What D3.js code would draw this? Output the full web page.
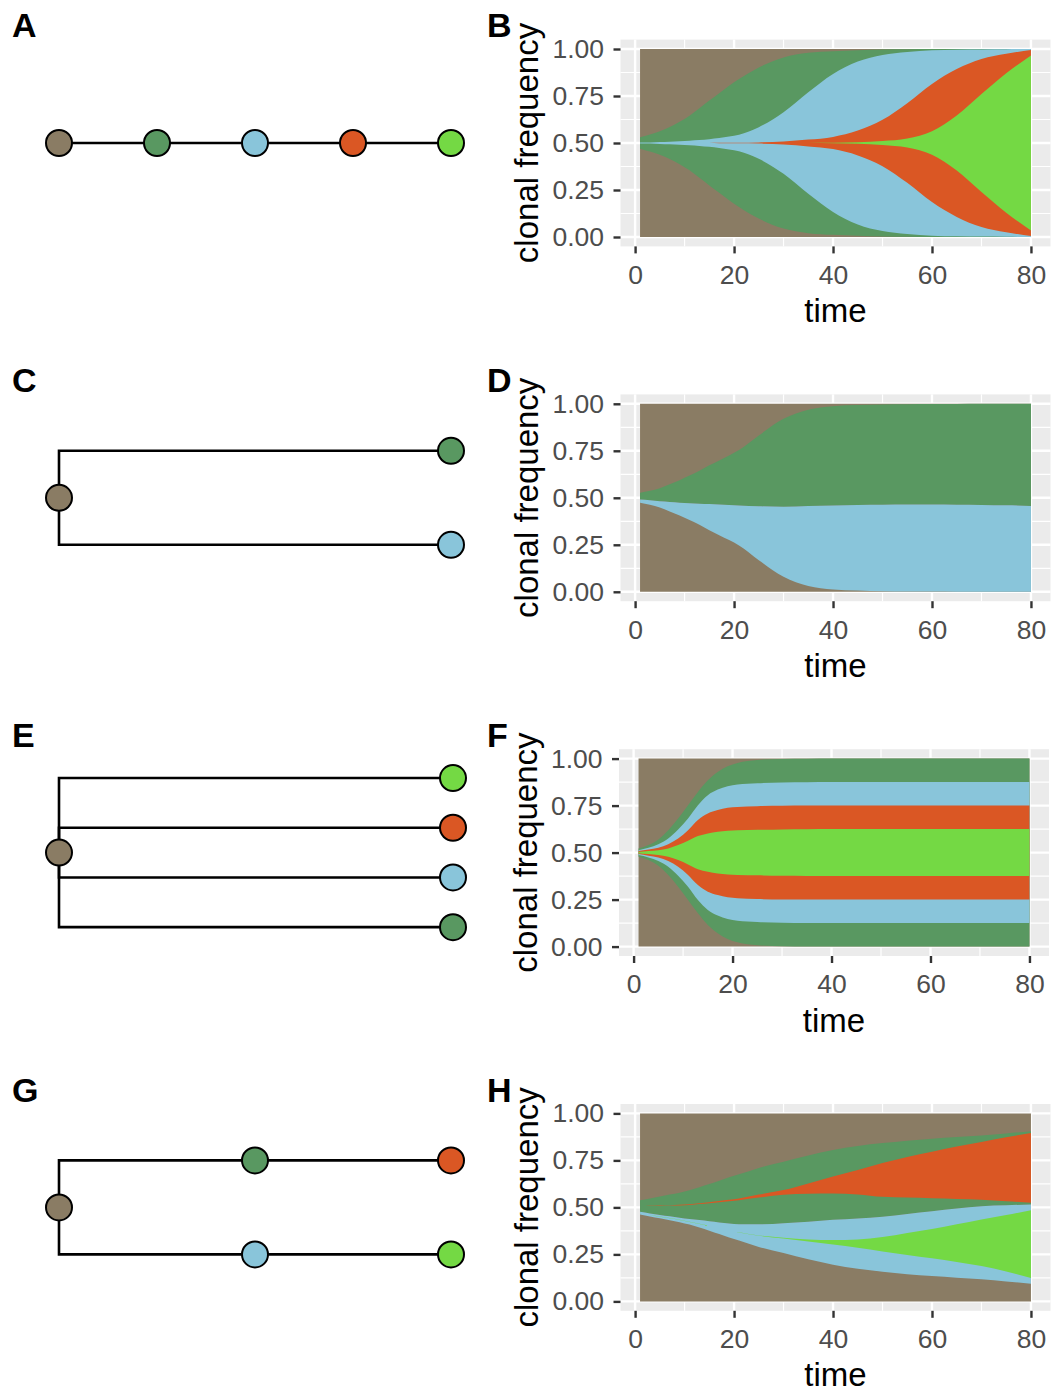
<!DOCTYPE html>
<html>
<head>
<meta charset="utf-8">
<script src="https://cdn.jsdelivr.net/npm/d3@7"></script>
<style>
  body { margin: 0; background: #ffffff; }
  text { font-family: "Liberation Sans", Arial, sans-serif; }
</style>
</head>
<body>
<svg id="fig" width="1053" height="1392"></svg>
<script>
// ---- clone colours ----
const colBrown  = "#8A7C64";
const colGreen  = "#599861";
const colBlue   = "#89C5DA";
const colOrange = "#DA5724";
const colLime   = "#74D944";

// ---- sampling times shared by every fish plot ----
const times = [1, 3, 5, 7, 9, 11, 13, 15, 17, 19, 21, 25, 30, 35, 40, 45, 50, 55, 60, 65, 70, 75, 80];
const rootFreq = times.map(() => 1);

// ---- clonal frequencies (each clone includes its descendants) ----
// B: linear chain brown > green > blue > orange > lime
const bGreen  = [0.06, 0.09, 0.124, 0.17, 0.225, 0.29, 0.37, 0.451, 0.53, 0.61, 0.68, 0.804, 0.91, 0.959, 0.977, 0.988, 0.995, 0.998, 1, 1, 1, 1, 1];
const bBlue   = [0.004, 0.006, 0.01, 0.014, 0.018, 0.024, 0.031, 0.041, 0.052, 0.068, 0.088, 0.168, 0.327, 0.539, 0.733, 0.866, 0.936, 0.968, 0.986, 0.993, 0.996, 0.998, 1];
const bOrange = [0, 0, 0, 0, 0, 0, 0, 0.001, 0.002, 0.002, 0.003, 0.006, 0.016, 0.036, 0.065, 0.132, 0.247, 0.424, 0.628, 0.786, 0.893, 0.949, 0.99];
const bLime   = [0, 0, 0, 0, 0, 0, 0, 0, 0, 0, 0, 0, 0, 0.001, 0.002, 0.008, 0.021, 0.048, 0.124, 0.292, 0.521, 0.742, 0.931];

// D: brown with two sibling clones
const dGreen = [0.035, 0.05, 0.07, 0.095, 0.12, 0.147, 0.175, 0.206, 0.235, 0.263, 0.295, 0.377, 0.468, 0.513, 0.528, 0.531, 0.533, 0.534, 0.535, 0.536, 0.538, 0.54, 0.543];
const dBlue  = [0.018, 0.025, 0.032, 0.05, 0.068, 0.09, 0.113, 0.139, 0.163, 0.187, 0.213, 0.287, 0.373, 0.425, 0.447, 0.455, 0.46, 0.462, 0.463, 0.463, 0.462, 0.46, 0.457];

// F: four clones sweeping in together, drawn nested
const fGreen  = [0.044, 0.08, 0.14, 0.238, 0.362, 0.504, 0.646, 0.77, 0.858, 0.918, 0.954, 0.986, 0.996, 0.999, 1, 1, 1, 1, 1, 1, 1, 1, 1];
const fBlue   = [0.026, 0.052, 0.09, 0.15, 0.246, 0.362, 0.504, 0.61, 0.67, 0.706, 0.724, 0.738, 0.746, 0.749, 0.75, 0.75, 0.75, 0.75, 0.75, 0.75, 0.75, 0.75, 0.75];
const fOrange = [0.016, 0.034, 0.052, 0.09, 0.15, 0.238, 0.346, 0.416, 0.452, 0.476, 0.486, 0.494, 0.498, 0.5, 0.5, 0.5, 0.5, 0.5, 0.5, 0.5, 0.5, 0.5, 0.5];
const fLime   = [0.006, 0.016, 0.026, 0.044, 0.08, 0.126, 0.176, 0.204, 0.222, 0.232, 0.238, 0.242, 0.246, 0.248, 0.25, 0.25, 0.25, 0.25, 0.25, 0.25, 0.25, 0.25, 0.25];

// H: brown > (green > orange), (blue > lime)
const hGreen  = [0.061, 0.08, 0.098, 0.115, 0.133, 0.153, 0.175, 0.198, 0.222, 0.246, 0.266, 0.3, 0.327, 0.352, 0.371, 0.385, 0.392, 0.39, 0.386, 0.38, 0.376, 0.382, 0.39];
const hBlue   = [0.014, 0.016, 0.018, 0.021, 0.024, 0.03, 0.04, 0.05, 0.062, 0.074, 0.086, 0.12, 0.159, 0.2, 0.239, 0.268, 0.292, 0.32, 0.345, 0.368, 0.389, 0.405, 0.421];
const hOrange = [0, 0.001, 0.002, 0.002, 0.003, 0.004, 0.005, 0.006, 0.007, 0.008, 0.01, 0.016, 0.025, 0.055, 0.09, 0.13, 0.18, 0.216, 0.248, 0.279, 0.308, 0.34, 0.371];
const hLime   = [0, 0, 0.001, 0.001, 0.001, 0.001, 0.001, 0.001, 0.001, 0.001, 0.001, 0.002, 0.005, 0.01, 0.023, 0.044, 0.076, 0.117, 0.156, 0.2, 0.248, 0.3, 0.361];

// ---- axis tick labels ----
const xTicks = [0, 20, 40, 60, 80];
const xMinor = [10, 30, 50, 70];
const yTicks = [0, 0.25, 0.5, 0.75, 1];
const yMinor = [0.125, 0.375, 0.625, 0.875];

// ---- fish plot clone lists (parent index refers to the band that encloses a clone) ----
const fishPanels = [
  { letter: "B", shift: 0, clones: [
      { color: colBrown,  parent: -1, values: rootFreq },
      { color: colGreen,  parent: 0,  values: bGreen },
      { color: colBlue,   parent: 1,  values: bBlue },
      { color: colOrange, parent: 2,  values: bOrange },
      { color: colLime,   parent: 3,  values: bLime } ] },
  { letter: "D", shift: 0, clones: [
      { color: colBrown, parent: -1, values: rootFreq },
      { color: colGreen, parent: 0,  values: dGreen },
      { color: colBlue,  parent: 0,  values: dBlue } ] },
  { letter: "F", shift: -1.5, clones: [
      { color: colBrown,  parent: -1, values: rootFreq },
      { color: colGreen,  parent: 0,  values: fGreen },
      { color: colBlue,   parent: 1,  values: fBlue },
      { color: colOrange, parent: 2,  values: fOrange },
      { color: colLime,   parent: 3,  values: fLime } ] },
  { letter: "H", shift: 0, clones: [
      { color: colBrown,  parent: -1, values: rootFreq },
      { color: colGreen,  parent: 0,  values: hGreen },
      { color: colOrange, parent: 1,  values: hOrange },
      { color: colBlue,   parent: 0,  values: hBlue },
      { color: colLime,   parent: 3,  values: hLime } ] }
];

// ---- phylogenies (depth along x, lane across y) ----
const treePanels = [
  { letter: "A", lanePx: 0,    right: 451,
    colors: [colBrown, colGreen, colBlue, colOrange, colLime],
    parents: [-1, 0, 1, 2, 3], depths: [0, 1, 2, 3, 4], lanes: [0, 0, 0, 0, 0] },
  { letter: "C", lanePx: 47,   right: 451,
    colors: [colBrown, colGreen, colBlue],
    parents: [-1, 0, 0], depths: [0, 4, 4], lanes: [0, -1, 1] },
  { letter: "E", lanePx: 49.7, right: 453,
    colors: [colBrown, colLime, colOrange, colBlue, colGreen],
    parents: [-1, 0, 0, 0, 0], depths: [0, 4, 4, 4, 4], lanes: [0, -1.5, -0.5, 0.5, 1.5] },
  { letter: "G", lanePx: 47,   right: 451,
    colors: [colBrown, colGreen, colOrange, colBlue, colLime],
    parents: [-1, 0, 1, 0, 3], depths: [0, 2, 4, 2, 4], lanes: [0, -1, -1, 1, 1] }
];

// ---- geometry ----
const svg = d3.select("#fig");
const rowStep = 354.8;
const firstTop = 49;      // pixel of frequency 1.00 in the first row
const plotH = 188;        // pixels from 1.00 to 0.00
const panelLeft = 620.5, panelRight = 1050.5;
const tickFont = 26.5, titleFont = 33, letterFont = 34;

const tExt = (d3.max(times) - d3.min(times)) * 0.05;
const x = d3.scaleLinear()
  .domain([d3.min(times) - tExt, d3.max(times) + tExt])
  .range([panelLeft, panelRight]);

// nested band layout: children share the middle of the parent band, stacked top to bottom
function layoutBands(clones) {
  const bands = clones.map(() => []);
  times.forEach((t, i) => {
    const place = (k, lo, hi) => {
      bands[k][i] = [lo, hi];
      const kids = clones.map((c, j) => j).filter(j => clones[j].parent === k);
      const total = d3.sum(kids, j => clones[j].values[i]);
      let top = (lo + hi) / 2 + total / 2;
      kids.forEach(j => {
        const v = clones[j].values[i];
        place(j, top - v, top);
        top -= v;
      });
    };
    place(0, 0, 1);
  });
  return bands;
}

fishPanels.forEach((panel, r) => {
  const yTop = firstTop + r * rowStep;
  const y = d3.scaleLinear().domain([-0.05, 1.05])
    .range([yTop + plotH * 1.05, yTop - plotH * 0.05]);
  const g = svg.append("g").attr("transform", `translate(${panel.shift},0)`);
  const pTop = y(1.05), pBot = y(-0.05);

  // panel background and grid
  g.append("rect").attr("x", panelLeft).attr("y", pTop)
    .attr("width", panelRight - panelLeft).attr("height", pBot - pTop)
    .attr("fill", "#EBEBEB");
  const grid = g.append("g").attr("stroke", "#ffffff").attr("fill", "none");
  xMinor.forEach(v => grid.append("line").attr("x1", x(v)).attr("x2", x(v))
    .attr("y1", pTop).attr("y2", pBot).attr("stroke-width", 1.2));
  yMinor.forEach(v => grid.append("line").attr("y1", y(v)).attr("y2", y(v))
    .attr("x1", panelLeft).attr("x2", panelRight).attr("stroke-width", 1.2));
  xTicks.forEach(v => grid.append("line").attr("x1", x(v)).attr("x2", x(v))
    .attr("y1", pTop).attr("y2", pBot).attr("stroke-width", 2.4));
  yTicks.forEach(v => grid.append("line").attr("y1", y(v)).attr("y2", y(v))
    .attr("x1", panelLeft).attr("x2", panelRight).attr("stroke-width", 2.4));

  // clone bands, parents first so children sit on top
  const bands = layoutBands(panel.clones);
  const area = d3.area()
    .x((d, i) => x(times[i]))
    .y0(d => y(d[0]))
    .y1(d => y(d[1]))
    .curve(d3.curveMonotoneX);
  panel.clones.forEach((c, k) => {
    g.append("path").attr("d", area(bands[k])).attr("fill", c.color);
  });

  // axes
  const yAxis = d3.axisLeft(y).tickValues(yTicks).tickSize(7).tickPadding(9.5)
    .tickFormat(d3.format(".2f"));
  const xAxis = d3.axisBottom(x).tickValues(xTicks).tickSize(7).tickPadding(11.5)
    .tickFormat(d3.format("d"));
  const ya = g.append("g").attr("transform", `translate(${panelLeft},0)`).call(yAxis);
  const xa = g.append("g").attr("transform", `translate(0,${pBot})`).call(xAxis);
  [ya, xa].forEach(a => {
    a.select(".domain").remove();
    a.selectAll(".tick line").attr("stroke", "#333333").attr("stroke-width", 2.4);
    a.selectAll(".tick text").attr("fill", "#4D4D4D")
      .style("font-size", tickFont + "px")
      .style("font-family", '"Liberation Sans", Arial, sans-serif');
  });

  // axis titles
  g.append("text").attr("x", (panelLeft + panelRight) / 2).attr("y", pBot + 75.5)
    .attr("text-anchor", "middle").style("font-size", titleFont + "px")
    .attr("fill", "#000").text("time");
  g.append("text")
    .attr("transform", `translate(538,${y(0.5)}) rotate(-90)`)
    .attr("text-anchor", "middle").style("font-size", titleFont + "px")
    .attr("fill", "#000").text("clonal frequency");

  // panel letter
  g.append("text").attr("x", 487 - panel.shift).attr("y", 37.3 + r * rowStep)
    .style("font-size", letterFont + "px").style("font-weight", "bold")
    .attr("fill", "#000").text(panel.letter);
});

// ---- phylogenies ----
treePanels.forEach((tree, r) => {
  const yMid = firstTop + r * rowStep + plotH / 2;
  const depthX = d3.scaleLinear().domain([0, 4]).range([59, tree.right]);
  const laneY = d3.scaleLinear().domain([-1, 1]).range([yMid - tree.lanePx, yMid + tree.lanePx]);
  const g = svg.append("g");
  const nodes = tree.colors.map((c, i) => ({
    color: c, parent: tree.parents[i],
    px: depthX(tree.depths[i]), py: laneY(tree.lanes[i])
  }));
  nodes.forEach(n => {
    if (n.parent < 0) return;
    const p = nodes[n.parent];
    g.append("path")
      .attr("d", `M${p.px},${p.py}V${n.py}H${n.px}`)
      .attr("fill", "none").attr("stroke", "#000").attr("stroke-width", 2.6);
  });
  nodes.forEach(n => {
    g.append("circle").attr("cx", n.px).attr("cy", n.py).attr("r", 13)
      .attr("fill", n.color).attr("stroke", "#000").attr("stroke-width", 2);
  });
  g.append("text").attr("x", 12).attr("y", 37.3 + r * rowStep)
    .style("font-size", letterFont + "px").style("font-weight", "bold")
    .attr("fill", "#000").text(tree.letter);
});
</script>
</body>
</html>
